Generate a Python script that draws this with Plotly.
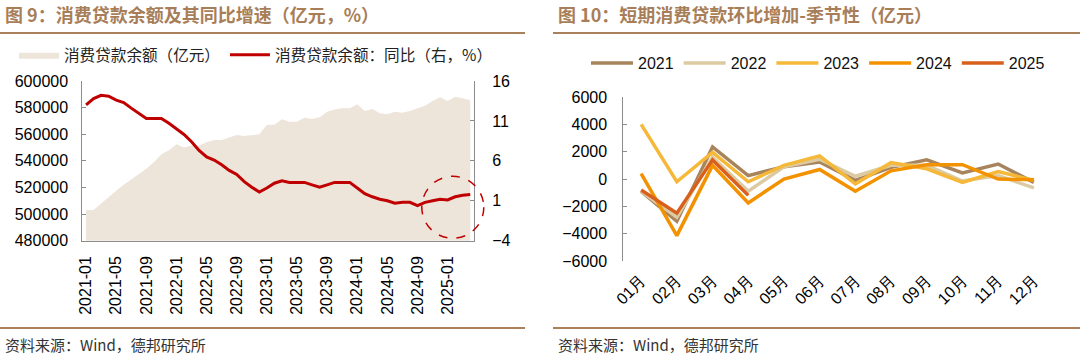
import plotly.graph_objects as go

W, H = 1080, 357

# ---------------- data: Fig 9 ----------------
months = [f"{y}-{m:02d}" for y in range(2021, 2026) for m in range(1, 13)][:52]
balance = [503000, 503000, 508000, 513000, 517500, 522000, 526000, 530000, 534000, 539000,
           545000, 548000, 552500, 550000, 551500, 551500, 554000, 555600, 555600, 557500,
           559400, 558600, 559300, 559900, 566900, 567200, 571200, 569400, 569400, 572400,
           571400, 572700, 576900, 578500, 579500, 579500, 582500, 577400, 578900, 575700,
           575000, 576900, 576200, 577400, 579500, 581400, 585000, 587700, 585000, 588200,
           587000, 585500]
yoy = [13.0, 13.8, 14.2, 14.1, 13.6, 13.3, 12.6, 11.9, 11.3, 11.3,
       11.3, 10.7, 10.0, 9.3, 8.4, 7.3, 6.5, 6.1, 5.5, 4.8,
       4.3, 3.4, 2.7, 2.1, 2.6, 3.2, 3.5, 3.3, 3.3, 3.3,
       3.0, 2.7, 3.0, 3.3, 3.3, 3.3, 2.6, 1.9, 1.5, 1.2,
       1.0, 0.7, 0.8, 0.8, 0.4, 0.8, 1.0, 1.2, 1.1, 1.5,
       1.7, 1.8]
left_ticks = months[::4]

# ---------------- data: Fig 10 ----------------
mcat = ["01月", "02月", "03月", "04月", "05月", "06月", "07月", "08月", "09月", "10月", "11月", "12月"]
y2021 = [-900, -3100, 2350, 250, 900, 1250, -100, 850, 1400, 450, 1100, -250]
y2022 = [-900, -2800, 1600, -900, 900, 1450, 200, 1000, 1000, -150, 250, -650]
y2023 = [4000, -200, 1950, -200, 1000, 1700, -350, 1200, 750, -250, 550, -100]
y2024 = [400, -4150, 1000, -1750, 0, 700, -900, 600, 1050, 1050, 0, -50]
y2025 = [-800, -2500, 1400, -1200]
series = [("2021", y2021, "#a8845d"), ("2022", y2022, "#dccba2"), ("2023", y2023, "#f5b838"),
          ("2024", y2024, "#f39200"), ("2025", y2025, "#d9601c")]

NUM = "Liberation Sans, Arial, sans-serif"
CJK = "Noto Sans CJK SC, sans-serif"
AX = "#8c8c8c"
TITLE_C = "#a87e58"

# plot areas (pixels)
L_x0, L_x1, L_yt, L_yb = 82.3, 474, 81, 240.7
R_x0, R_x1, R_yt, R_yb = 623.3, 1051.7, 97.1, 260.9
fx = lambda px: px / W
fy = lambda py: 1 - py / H

fig = go.Figure()
fig.add_trace(go.Scatter(x=months, y=balance, name="消费贷款余额（亿元）", mode="lines",
                         fill="tozeroy", fillcolor="#ede4da", line=dict(width=0, color="#ede4da"),
                         xaxis="x", yaxis="y", legend="legend"))
fig.add_trace(go.Scatter(x=months, y=yoy, name="消费贷款余额：同比（右，%）", mode="lines",
                         line=dict(color="#c00000", width=3), xaxis="x", yaxis="y2", legend="legend"))
for name, vals, col in series:
    fig.add_trace(go.Scatter(x=mcat[:len(vals)], y=vals, name=name, mode="lines",
                             line=dict(color=col, width=3.5), xaxis="x2", yaxis="y3", legend="legend2"))

ymin3, ymax3 = -6000, 6000
zero_frac = fy(R_yb) + (0 - ymin3) / (ymax3 - ymin3) * (fy(R_yt) - fy(R_yb))

tickfont = dict(family=NUM, size=16, color="#000000")
fig.update_layout(
    width=W, height=H, margin=dict(l=0, r=0, t=0, b=0, autoexpand=False),
    paper_bgcolor="white", plot_bgcolor="rgba(0,0,0,0)",
    xaxis=dict(domain=[fx(L_x0), fx(L_x1)], anchor="y", type="category", range=[-0.5, 51.5],
               tickmode="array", tickvals=left_ticks, ticktext=left_ticks, tickangle=-90,
               ticks="", showline=True, linecolor=AX, linewidth=1, showgrid=False,
               tickfont=tickfont, ticklabelstandoff=8, automargin=False),
    xaxis3=dict(overlaying="x", anchor="y", type="linear", range=[-0.5, 51.5],
                tickmode="linear", tick0=-0.5, dtick=4, ticks="inside", ticklen=4, tickcolor=AX,
                showticklabels=False, showline=False, showgrid=False, zeroline=False,
                automargin=False),
    yaxis=dict(domain=[fy(L_yb), fy(L_yt)], anchor="x", range=[480000, 600000], dtick=20000,
               tickformat="d", showline=True, linecolor=AX, ticks="inside", ticklen=4, tickcolor=AX,
               showgrid=False, zeroline=False, tickfont=tickfont, ticklabelstandoff=10,
               automargin=False),
    yaxis2=dict(overlaying="y", side="right", anchor="x", range=[-4, 16], tick0=-4, dtick=5,
                showline=True, linecolor=AX, ticks="inside", ticklen=4, tickcolor=AX,
                showgrid=False, zeroline=False, tickfont=tickfont, ticklabelstandoff=14,
                automargin=False),
    xaxis2=dict(domain=[fx(R_x0), fx(R_x1)], anchor="y3", type="category", range=[-0.5, 11.5],
                tickangle=-45, ticks="", showline=False, showgrid=False, tickfont=tickfont,
                ticklabelstandoff=6, automargin=False),
    yaxis3=dict(domain=[fy(R_yb), fy(R_yt)], anchor="x2", range=[ymin3, ymax3], dtick=2000,
                showline=True, linecolor=AX, ticks="inside", ticklen=4, tickcolor=AX,
                showgrid=False, zeroline=False, tickfont=tickfont, ticklabelstandoff=12,
                automargin=False),
    xaxis4=dict(domain=[fx(R_x0), fx(R_x1)], anchor="y4", type="linear", range=[-0.5, 11.5],
                tickmode="linear", tick0=-0.5, dtick=1, ticks="inside", ticklen=4, tickcolor=AX,
                showline=True, linecolor=AX, showticklabels=False, showgrid=False, zeroline=False,
                automargin=False),
    yaxis4=dict(domain=[zero_frac, fy(R_yt)], anchor="x4", visible=False, range=[0, 1],
                automargin=False),
    legend=dict(orientation="h", x=fx(14), y=fy(55), xanchor="left", yanchor="middle",
                font=dict(family=CJK, size=15.6, color="#222222"), itemwidth=40,
                bgcolor="rgba(0,0,0,0)", tracegroupgap=0),
    legend2=dict(orientation="h", x=fx(586), y=fy(63), xanchor="left", yanchor="middle",
                 font=dict(family=NUM, size=16, color="#111111"), itemwidth=42,
                 bgcolor="rgba(0,0,0,0)"),
    showlegend=True,
)

# titles, rules and source
for xpx, txt in [(3, "<b>图 9：消费贷款余额及其同比增速（亿元，%）</b>"),
                 (556, "<b>图 10：短期消费贷款环比增加-季节性（亿元）</b>")]:
    fig.add_annotation(xref="paper", yref="paper", x=fx(xpx), y=fy(14), xanchor="left",
                       yanchor="middle", showarrow=False, text=txt,
                       font=dict(family=CJK, size=18, color=TITLE_C))
for xpx in (3, 556):
    fig.add_annotation(xref="paper", yref="paper", x=fx(xpx), y=fy(344), xanchor="left",
                       yanchor="middle", showarrow=False, text="资料来源：Wind，德邦研究所",
                       font=dict(family=CJK, size=15, color="#333333"))
for (a, b) in [(0, 525), (553, 1080)]:
    for ypx in (33, 328):
        fig.add_shape(type="line", xref="paper", yref="paper", x0=fx(a), x1=fx(b),
                      y0=fy(ypx), y1=fy(ypx), line=dict(color="#a9805a", width=2))
# dashed highlight circle
fig.add_shape(type="circle", xref="paper", yref="paper", x0=fx(421.8), x1=fx(483.8),
              y0=fy(238.3), y1=fy(176.3), line=dict(color="#c00000", width=1.5, dash="dash"))

fig.write_html("out.html", config={"displayModeBar": False, "staticPlot": True},
               post_script="document.body.style.margin='0';document.body.style.overflow='hidden';")
